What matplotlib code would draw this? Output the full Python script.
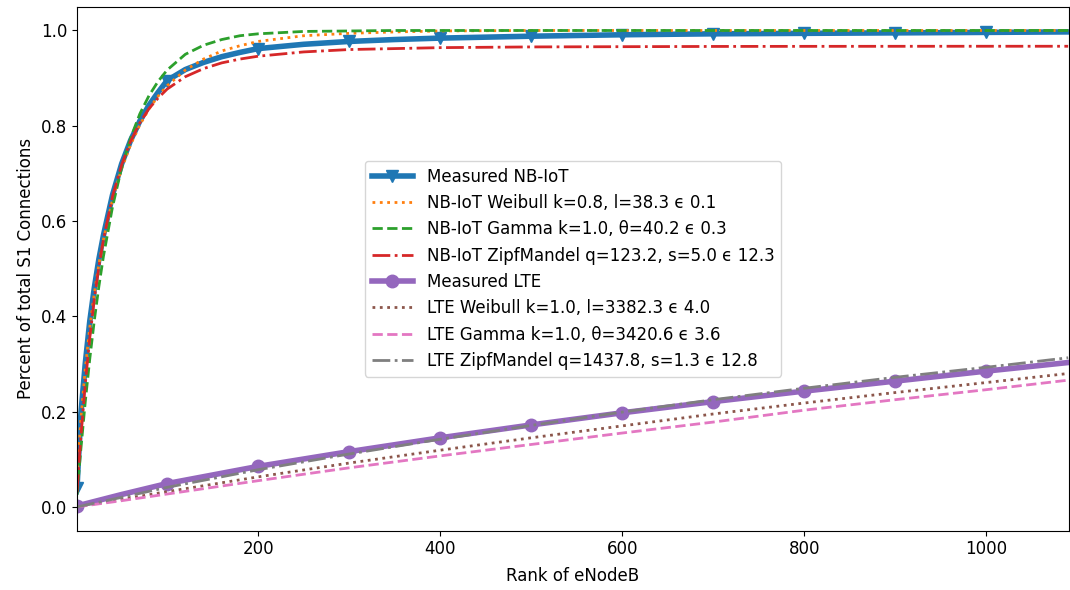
import matplotlib
matplotlib.use("Agg")
import matplotlib.pyplot as plt

plt.rcParams["font.family"] = ["DejaVu Sans"]
plt.rcParams["font.size"] = 12

# Rank positions at which the NB-IoT curves are sampled
rank_nb = [1, 2, 3, 5, 10, 15, 20, 25, 30, 40, 50, 60, 70, 80, 90, 100,
           120, 140, 160, 180, 200, 250, 300, 350, 400, 500, 600, 700,
           800, 900, 1000, 1090]

nb_measured = [0.040, 0.080, 0.115, 0.190, 0.300, 0.390, 0.460, 0.520, 0.570,
               0.655, 0.720, 0.770, 0.810, 0.843, 0.870, 0.895,
               0.918, 0.933, 0.945, 0.954, 0.962, 0.971, 0.977, 0.981, 0.984,
               0.988, 0.991, 0.993, 0.994, 0.995, 0.996, 0.997]
nb_weibull = [0.053, 0.090, 0.122, 0.178, 0.289, 0.377, 0.448, 0.509, 0.561,
              0.645, 0.710, 0.761, 0.802, 0.835, 0.862, 0.884,
              0.917, 0.940, 0.957, 0.968, 0.977, 0.989, 0.994, 0.997, 0.999,
              1.000, 1.000, 1.000, 1.000, 1.000, 1.000, 1.000]
nb_gamma = [0.025, 0.049, 0.072, 0.117, 0.220, 0.311, 0.392, 0.463, 0.526,
            0.630, 0.712, 0.775, 0.825, 0.863, 0.893, 0.917,
            0.950, 0.969, 0.981, 0.989, 0.993, 0.998, 0.999, 1.000, 1.000,
            1.000, 1.000, 1.000, 1.000, 1.000, 1.000, 1.000]
nb_zipf = [0.031, 0.060, 0.088, 0.142, 0.258, 0.355, 0.436, 0.504, 0.561,
           0.652, 0.718, 0.768, 0.806, 0.836, 0.858, 0.877,
           0.903, 0.920, 0.932, 0.940, 0.946, 0.955, 0.960, 0.962, 0.964,
           0.9655, 0.966, 0.9665, 0.9667, 0.9668, 0.9669, 0.9669]

# Rank positions at which the LTE curves are sampled
rank_lte = [1, 50, 100, 200, 300, 400, 500, 600, 700, 800, 900, 1000, 1090]

lte_measured = [0.002, 0.026, 0.049, 0.085, 0.116, 0.145, 0.172, 0.1975,
                0.221, 0.243, 0.264, 0.285, 0.303]
lte_weibull = [0.000, 0.016, 0.032, 0.063, 0.092, 0.119, 0.145, 0.170,
               0.195, 0.218, 0.240, 0.261, 0.280]
lte_gamma = [0.000, 0.013, 0.027, 0.055, 0.082, 0.107, 0.131, 0.155,
             0.178, 0.203, 0.225, 0.246, 0.266]
lte_zipf = [0.000, 0.020, 0.041, 0.078, 0.111, 0.142, 0.171, 0.199,
            0.225, 0.249, 0.272, 0.293, 0.313]

labels = [
    "Measured NB-IoT",
    "NB-IoT Weibull k=0.8, l=38.3 \u03f5 0.1",
    "NB-IoT Gamma k=1.0, \u03b8=40.2 \u03f5 0.3",
    "NB-IoT ZipfMandel q=123.2, s=5.0 \u03f5 12.3",
    "Measured LTE",
    "LTE Weibull k=1.0, l=3382.3 \u03f5 4.0",
    "LTE Gamma k=1.0, \u03b8=3420.6 \u03f5 3.6",
    "LTE ZipfMandel q=1437.8, s=1.3 \u03f5 12.8",
]


def every_hundred(ranks):
    return [i for i, r in enumerate(ranks) if r == 1 or r % 100 == 0]


fig = plt.figure(figsize=(10.7, 5.9), dpi=100)
ax = fig.add_axes([0.0720, 0.1005, 0.9271, 0.8882])

ax.plot(rank_nb, nb_measured, color="C0", lw=4, marker="v", ms=9,
        markevery=every_hundred(rank_nb), label=labels[0])
ax.plot(rank_nb, nb_weibull, color="C1", lw=2, ls=":", label=labels[1])
ax.plot(rank_nb, nb_gamma, color="C2", lw=2, ls="--", label=labels[2])
ax.plot(rank_nb, nb_zipf, color="C3", lw=2, ls="-.", label=labels[3])

ax.plot(rank_lte, lte_measured, color="C4", lw=4, marker="o", ms=9,
        markevery=every_hundred(rank_lte), label=labels[4])
ax.plot(rank_lte, lte_weibull, color="C5", lw=2, ls=":", label=labels[5])
ax.plot(rank_lte, lte_gamma, color="C6", lw=2, ls="--", label=labels[6])
ax.plot(rank_lte, lte_zipf, color="C7", lw=2, ls="-.", label=labels[7])

ax.set_xlim(1, 1091)
ax.set_ylim(-0.05, 1.05)
ax.set_xticks([200, 400, 600, 800, 1000])
ax.set_yticks([0.0, 0.2, 0.4, 0.6, 0.8, 1.0])
ax.set_xlabel("Rank of eNodeB", labelpad=6)
ax.set_ylabel("Percent of total S1 Connections", fontsize=12)

ax.legend(loc="center", handlelength=2.5)

fig.savefig("out.png", dpi=100)
